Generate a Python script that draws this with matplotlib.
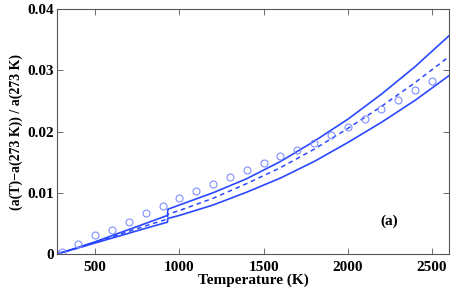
import numpy as np
import matplotlib
matplotlib.use('Agg')
import matplotlib.pyplot as plt

plt.rcParams['font.family'] = 'serif'
plt.rcParams['font.serif'] = ['Liberation Serif', 'DejaVu Serif']
plt.rcParams['font.weight'] = 'bold'
plt.rcParams['mathtext.default'] = 'regular'

# Temperatures (K) at which the curves were read; 929/931 bracket the step
T_line = [273, 400, 500, 600, 700, 800, 929, 931, 1000, 1200, 1400, 1600,
          1800, 2000, 2200, 2400, 2600]

upper = [0.0, 0.0011, 0.0020, 0.0030, 0.0040, 0.0050, 0.0063, 0.0073, 0.0080,
         0.0100, 0.0123, 0.0151, 0.0184, 0.0220, 0.0261, 0.0306, 0.0356]
middle = [0.0, 0.0010, 0.0019, 0.0028, 0.0037, 0.0046, 0.0057, 0.0065, 0.0071,
          0.0091, 0.0115, 0.0141, 0.0171, 0.0205, 0.0241, 0.0280, 0.0322]
lower = [0.0, 0.0010, 0.0018, 0.0026, 0.0034, 0.0042, 0.0052, 0.0058, 0.0063,
         0.0080, 0.0101, 0.0124, 0.0151, 0.0182, 0.0215, 0.0251, 0.0291]

# Measured points
T_exp = [273, 300, 400, 500, 600, 700, 800, 900, 1000, 1100, 1200, 1300, 1400,
         1500, 1600, 1700, 1800, 1900, 2000, 2100, 2200, 2300, 2400, 2500]
exp = [0.0, 0.0003, 0.0016, 0.0031, 0.0039, 0.0052, 0.0067, 0.0079, 0.0091,
       0.0103, 0.0114, 0.0126, 0.0137, 0.0148, 0.0160, 0.0170, 0.0181, 0.0195,
       0.0208, 0.0220, 0.0237, 0.0251, 0.0268, 0.0282]

LINE = '#2a48ff'
MARK = '#8090ff'

fig = plt.figure(figsize=(4.69, 3.0), dpi=100)
ax = fig.add_axes([0.1215, 0.1533, 0.8355, 0.8167])

ax.plot(T_line, upper, color=LINE, linewidth=1.2)
ax.plot(T_line, lower, color=LINE, linewidth=1.2)
ax.plot(T_line, middle, color=LINE, linewidth=1.1, linestyle=(0, (3, 2.5)))
ax.plot(T_exp, exp, linestyle='none', marker='o', markersize=5,
        markerfacecolor='none', markeredgecolor=MARK, markeredgewidth=0.8)

ax.set_xlim(273, 2600)
ax.set_ylim(0, 0.04)
ax.set_xticks([500, 1000, 1500, 2000, 2500])
ax.set_yticks([0, 0.01, 0.02, 0.03, 0.04])
ax.set_yticklabels(['0', '0.01', '0.02', '0.03', '0.04'])
ax.tick_params(direction='in', top=True, right=True, length=4, width=0.6,
               color='#555555', labelsize=11)
ax.tick_params(axis='x', pad=5)
ax.tick_params(axis='y', pad=2)
for lbl in ax.get_xticklabels() + ax.get_yticklabels():
    lbl.set_fontweight('bold')
for sp in ax.spines.values():
    sp.set_color('#555555')
    sp.set_linewidth(0.8)

ax.set_xlabel('Temperature (K)', fontsize=11, fontweight='bold', labelpad=0)
ax.set_ylabel('(a(T)\u2212a(273 K)) / a(273 K)', fontsize=10,
              fontweight='bold', labelpad=3)
ax.text(2243, 0.0054, '(a)', fontsize=11, fontweight='bold',
        ha='center', va='center')

fig.savefig('out.png', dpi=100, facecolor='white')
